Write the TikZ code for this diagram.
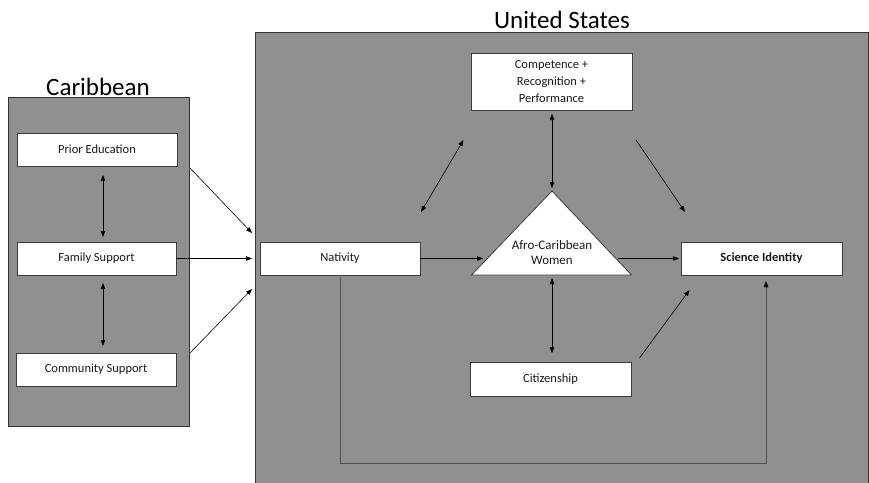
\documentclass[tikz,border=0pt]{standalone}
\usepackage{fontspec}
\setmainfont{Carlito}
\usetikzlibrary{arrows.meta}

\definecolor{regiongray}{RGB}{143,144,143}
\definecolor{edgegray}{RGB}{60,60,60}
\definecolor{loopgray}{RGB}{80,80,80}

\begin{document}
\begin{tikzpicture}[x=1pt,y=-1pt,
  box/.style={draw=edgegray, line width=0.7pt, fill=white, minimum width=160pt,
    minimum height=33pt, inner sep=0pt, text=black!90,
    font=\fontsize{12.5}{15}\selectfont},
  region/.style={draw=black!80, line width=0.9pt, fill=regiongray},
  title/.style={anchor=base, font=\fontsize{25}{30}\selectfont},
  arr/.style={-{Triangle[length=6pt,width=4.5pt]}, line width=0.6pt},
  darr/.style={{Triangle[length=6pt,width=4.5pt]}-{Triangle[length=6pt,width=4.5pt]}, line width=0.6pt}]

\useasboundingbox (0,0) rectangle (869,482);
\clip (0,0) rectangle (869,482);

% regions
\draw [region] (8,97) rectangle (189,426);
\draw [region] (255,32) rectangle (868,500);
\node [title] (carib) at (98,95) {Caribbean};
\node [title] (us) at (562,28) {United States};

% Caribbean boxes
\node [box] (pe) at (97,149.5) {Prior Education};
\node [box, minimum width=159pt] (fs) at (96.5,258.5) {Family Support};
\node [box] (cs) at (96,369.5) {Community Support};

% United States boxes
\node [box, minimum width=161pt, minimum height=57pt, align=center,
  font=\fontsize{12.5}{17}\selectfont] (cr) at (551.5,81.5) {Competence +\\Recognition +\\Performance};
\node [box] (nat) at (340,258.5) {Nativity};
\node [box, minimum width=161pt, font=\fontsize{12.5}{15}\bfseries] (sci) at (761.5,258.5) {Science Identity};
\node [box, minimum width=161pt, minimum height=34pt] (cit) at (550.5,379) {Citizenship};

% triangle
\coordinate (t1) at (552,191);
\coordinate (t2) at (471.5,275);
\coordinate (t3) at (631.5,275);
\draw [draw=edgegray, line width=0.8pt, fill=white, line join=miter] (t1) -- (t2) -- (t3) -- cycle;
\node [align=center, text=black!90, font=\fontsize{13}{15}\selectfont] (acw) at (552,252.5) {Afro-Caribbean\\Women};

% arrow ends
\coordinate (pe-end) at (252,233);
\coordinate (fs-end) at (252,258.5);
\coordinate (cs-end) at (252,289);
\coordinate (pe-start) at (190,168);
\coordinate (cs-start) at (190,353);
\coordinate (pf1) at (103,175);
\coordinate (pf2) at (103,237);
\coordinate (fc1) at (103,283);
\coordinate (fc2) at (103,346);
\coordinate (ct1) at (552,114);
\coordinate (ct2) at (552,188);
\coordinate (tc1) at (552,278);
\coordinate (tc2) at (552,353);
\coordinate (nt) at (483,258.5);
\coordinate (ts1) at (618,258.5);
\coordinate (ts2) at (679,258.5);
\coordinate (cs1) at (639.5,358);
\coordinate (cs2) at (689.5,290);
\coordinate (ld1) at (421,212);
\coordinate (ld2) at (463.5,140);
\coordinate (rd1) at (636,140);
\coordinate (rd2) at (685,212);
\coordinate (lp1) at (340,463);
\coordinate (lp2) at (766,463);
\coordinate (lp3) at (766,281);

% connectors
\draw [arr] (pe-start) -- (pe-end);
\draw [arr] (fs.east) -- (fs-end);
\draw [arr] (cs-start) -- (cs-end);
\draw [darr] (pf1) -- (pf2);
\draw [darr] (fc1) -- (fc2);
\draw [darr] (ct1) -- (ct2);
\draw [darr] (tc1) -- (tc2);
\draw [arr] (nat.east) -- (nt);
\draw [arr] (ts1) -- (ts2);
\draw [arr] (cs1) -- (cs2);
\draw [darr] (ld1) -- (ld2);
\draw [arr] (rd1) -- (rd2);
\draw [draw=loopgray, line width=0.8pt] ([yshift=-2pt]nat.south) -- (lp1) -- (lp2) -- ([yshift=-5pt]lp3);
\draw [arr] ([yshift=-6pt]lp3) -- (lp3);

\end{tikzpicture}
\end{document}
